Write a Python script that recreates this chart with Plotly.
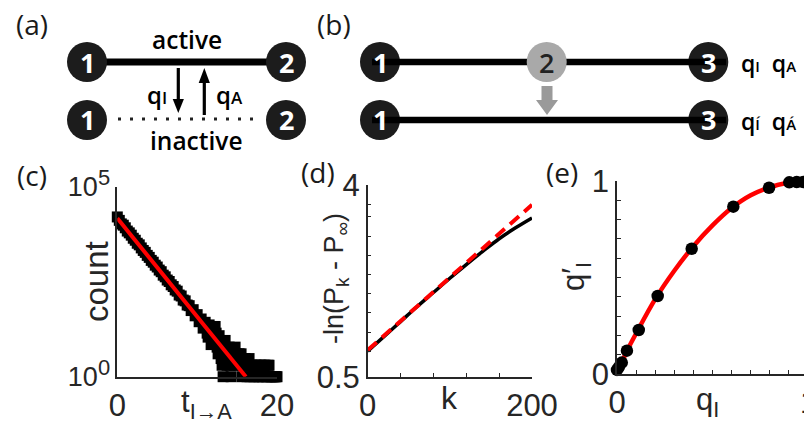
import plotly.graph_objects as go

W, H = 804, 424

# ---------------- data: panel (c) ----------------
hist_counts = [16000, 13000, 10500, 9700, 8300, 6800, 6100, 5300, 4400, 3900,
               3250, 2950, 2450, 2100, 1870, 1560, 1380, 1150, 1030, 860,
               770, 640, 580, 470, 425, 350, 320, 262, 236, 192,
               178, 141, 133, 104, 99, 77, 74, 55, 58, 40,
               43, 28, 33, 19, 27, 14, 23, 7, 18, 21,
               6, 12, 3, 1, 9, 2, 6, 1, 5, 6,
               3, 4, 4, 2, 3, 1, 3, 2, 1, 2,
               2, 1, 2, 1, 2, 1, 2, 1, 1, 1,
               1, 1]
hist_step = 0.25
hist_t = [i * hist_step for i in range(len(hist_counts))]
# tail bins lying between the bins above (t = 11.125, 11.375, ...)
tail_counts = [20, 11, 16, 12, 9, 14, 4, 8, 2, 5,
               4, 3, 2, 4, 2, 4, 2, 3, 1, 3,
               2, 2, 1, 2, 1, 2, 1, 2, 1, 2,
               1, 2, 1, 1, 1, 1, 1]
tail_t = [11.125 + i * hist_step for i in range(len(tail_counts))]
fit_c_t = [0, 16.1]
fit_c_count = [14800, 1]
c_xticks = [0, 20]
c_xticktext = ["0", "20"]
c_yticks = [1, 100000]
c_yticktext = ["10<sup><span style='font-size:22px'>0</span></sup>",
               "10<sup><span style='font-size:22px'>5</span></sup>"]

# ---------------- data: panel (d) ----------------
d_k = [0, 20, 40, 60, 80, 100, 120, 140, 160, 180, 200]
d_black = [0.97, 1.24, 1.51, 1.78, 2.04, 2.30, 2.55, 2.79, 3.02, 3.22, 3.40]
d_fit_k = [0, 200]
d_fit = [0.99, 3.64]
d_xticks = [0, 200]
d_xticktext = ["0", "200"]
d_xminor = [40, 80, 120, 160]
d_yticks = [0.5, 4.0]
d_yticktext = ["0.5", "4"]
d_yminor = [0.96, 1.31, 1.67, 2.02, 2.37, 2.72, 3.07, 3.42, 3.65]

# ---------------- data: panel (e) ----------------
e_q = [0.0, 0.01, 0.025, 0.052, 0.114, 0.213, 0.391, 0.609, 0.796, 0.902, 0.941, 0.975]
e_qp = [0.021, 0.036, 0.059, 0.121, 0.228, 0.404, 0.649, 0.867, 0.965, 0.993, 0.995, 0.995]
e_fit_q = [0.0, 0.05, 0.1, 0.2, 0.3, 0.4, 0.5, 0.6, 0.7, 0.8, 0.9, 0.98]
e_fit_qp = [0.0, 0.115, 0.21, 0.388, 0.535, 0.662, 0.77, 0.86, 0.926, 0.967, 0.992, 1.0]
e_ticks = [0, 1]
e_ticktext = ["0", "1"]
e_minor = [0.1, 0.2, 0.3, 0.4, 0.5, 0.6, 0.7, 0.8, 0.9]

AX_FONT = "Liberation Sans, Arial, sans-serif"
DG_FONT = "Open Sans, Noto Sans, sans-serif"
AXC = "#262626"


def px(x):
    return x / W


def py(y):
    return 1 - y / H


fig = go.Figure()

# (c)
for tt, cc in ((hist_t, hist_counts), (tail_t, tail_counts)):
    fig.add_trace(go.Scatter(x=tt, y=cc, mode="markers", xaxis="x", yaxis="y",
                             marker=dict(symbol="square", size=11, color="black",
                                         line=dict(width=0)),
                             cliponaxis=False, hoverinfo="skip"))
fig.add_trace(go.Scatter(x=fit_c_t, y=fit_c_count, mode="lines", xaxis="x", yaxis="y",
                         line=dict(color="#ff0000", width=4), cliponaxis=False))
# (d)
fig.add_trace(go.Scatter(x=d_k, y=d_black, mode="lines", xaxis="x2", yaxis="y2",
                         line=dict(color="black", width=3.5, shape="spline")))
fig.add_trace(go.Scatter(x=d_fit_k, y=d_fit, mode="lines", xaxis="x2", yaxis="y2",
                         line=dict(color="#ff0000", width=4, dash="12px,7px"), cliponaxis=False))
# (e)
fig.add_trace(go.Scatter(x=e_fit_q, y=e_fit_qp, mode="lines", xaxis="x3", yaxis="y3",
                         line=dict(color="#ff0000", width=4.5, shape="spline"), cliponaxis=False))
fig.add_trace(go.Scatter(x=e_q, y=e_qp, mode="markers", xaxis="x3", yaxis="y3",
                         marker=dict(symbol="circle", size=12.5, color="black", line=dict(width=0)),
                         cliponaxis=False))


def axis(domain, rng, anchor, tickvals, ticktext, minor=None, size=31, **kw):
    d = dict(domain=domain, range=rng, anchor=anchor, automargin=False,
             showline=True, linecolor=AXC, linewidth=1.5, ticks="inside", ticklen=4,
             tickwidth=1.2, tickcolor=AXC, showgrid=False, zeroline=False,
             tickmode="array", tickvals=tickvals, ticktext=ticktext,
             tickfont=dict(family=AX_FONT, size=size, color=AXC))
    if minor is not None:
        d["minor"] = dict(tickmode="array", tickvals=minor, ticks="inside", ticklen=4,
                          tickwidth=1.2, tickcolor=AXC, showgrid=False)
    d.update(kw)
    return d


fig.update_layout(
    template="none",
    width=W, height=H, margin=dict(l=0, r=0, t=0, b=0, pad=0),
    paper_bgcolor="white", plot_bgcolor="white", showlegend=False,
    xaxis=axis([px(117.3), px(277)], [0, 20], "y", c_xticks, c_xticktext),
    yaxis=axis([py(376.7), py(186.7)], [0, 5], "x", c_yticks, c_yticktext, size=27, type="log"),
    xaxis2=axis([px(367.7), px(532)], [0, 200], "y2", d_xticks, d_xticktext, d_xminor),
    yaxis2=axis([py(377), py(185)], [0.5, 4], "x2", d_yticks, d_yticktext, d_yminor),
    xaxis3=axis([px(617), 1], [0, (W - 617) / 191], "y3", e_ticks, e_ticktext, e_minor),
    yaxis3=axis([py(374), py(181)], [0, 1], "x3", e_ticks, e_ticktext, e_minor),
)

shapes = []
ann = []


def circle(cx, cy, r, color, layer="above"):
    shapes.append(dict(type="circle", xref="paper", yref="paper",
                       x0=px(cx - r), x1=px(cx + r), y0=py(cy + r), y1=py(cy - r),
                       fillcolor=color, line=dict(width=0), layer=layer))


def hline(x0, x1, y, width, color="black", dash=None):
    ln = dict(color=color, width=width)
    if dash:
        ln["dash"] = dash
    shapes.append(dict(type="line", xref="paper", yref="paper",
                       x0=px(x0), x1=px(x1), y0=py(y), y1=py(y), line=ln, layer="above"))


def vline(x, y0, y1, width, color="black"):
    shapes.append(dict(type="line", xref="paper", yref="paper",
                       x0=px(x), x1=px(x), y0=py(y0), y1=py(y1),
                       line=dict(color=color, width=width), layer="above"))


def poly(pts, color):
    d = "M " + " L ".join(f"{px(x):.5f},{py(y):.5f}" for x, y in pts) + " Z"
    shapes.append(dict(type="path", xref="paper", yref="paper", path=d,
                       fillcolor=color, line=dict(width=0), layer="above"))


def text(x, y, s, size, color="black", family=DG_FONT, weight=None, xanchor="center",
         yanchor="middle", angle=0):
    f = dict(family=family, size=size, color=color)
    if weight:
        f["weight"] = weight
    ann.append(dict(x=px(x), y=py(y), xref="paper", yref="paper", text=s, showarrow=False,
                    font=f, xanchor=xanchor, yanchor=yanchor, textangle=angle))


def small(s, size):
    return f"<span style='font-size:{size}px'>{s}</span>"


CIRC = "#1c1c1c"
# ---- panel (a)
hline(87, 286, 62, 7)
hline(118, 262, 119, 3, color="#222222", dash="3px,9px")
for cx, cy, lab in [(87, 62, "1"), (286, 62, "2"), (87, 120, "1"), (286, 120, "2")]:
    circle(cx, cy, 20, CIRC)
    text(cx, cy, lab, 27, color="white", weight=700)
vline(178.3, 68, 101, 3.2)
poly([(172.7, 99), (183.9, 99), (178.3, 113)], "black")
vline(204.3, 115, 81, 3.2)
poly([(198.7, 83), (209.9, 83), (204.3, 68)], "black")
text(187, 40, "active", 24.5, weight=600)
text(196, 141, "inactive", 24.5, weight=600)
text(145, 94, "q" + small("I", 17), 24, weight=600, xanchor="left")
text(214, 94, "q" + small("A", 17), 24, weight=600, xanchor="left")

# ---- panel (b)
for cy in (62, 120):
    circle(380, cy, 20, CIRC)
    circle(708.3, cy, 20, CIRC)
    hline(372, 726, cy, 6.5, color="black")
circle(546.7, 62, 20, "#a9a9a9")
for cy in (62, 120):
    text(380, cy, "1", 27, color="white", weight=700)
    text(708.3, cy, "3", 27, color="white", weight=700)
text(546.7, 62, "2", 27, color="#222222", weight=600)
poly([(541.5, 86), (552.5, 86), (552.5, 100), (558, 100), (547, 115), (536, 100), (541.5, 100)],
     "#9a9a9a")
text(739, 63, "q" + small("I", 15) + "  q" + small("A", 15), 23, weight=600, xanchor="left")
text(739, 121, "q" + small("Í", 15) + "  q" + small("Á", 15), 23, weight=600, xanchor="left")

# ---- panel labels
for x, y, s in [(32, 24, "(a)"), (334, 24, "(b)"), (32, 175, "(c)"), (318, 172, "(d)"),
                (562, 172, "(e)")]:
    text(x, y, s, 28, color="#1a1a1a")

# ---- axis titles
text(96, 282, "count", 33, color=AXC, family=AX_FONT, angle=-90)
text(206, 404, "t<sub>I→A</sub>", 31, color=AXC, family=AX_FONT)
text(336, 279, "-ln(P<sub>k</sub> - P<sub>∞</sub>)", 27, color=AXC, family=AX_FONT, angle=-90)
text(449, 398, "k", 32, color=AXC, family=AX_FONT)
text(576, 277, "q′<sub>I</sub>", 31, color=AXC, family=AX_FONT, angle=-90)
text(707, 402, "q<sub>I</sub>", 31, color=AXC, family=AX_FONT)
text(808, 402, e_ticktext[-1], 31, color=AXC, family=AX_FONT)

fig.update_layout(shapes=shapes, annotations=ann)
fig.write_html("out.html", config={"displayModeBar": False},
               post_script="document.documentElement.style.margin='0';"
                           "document.body.style.margin='0';document.body.style.padding='0';")
